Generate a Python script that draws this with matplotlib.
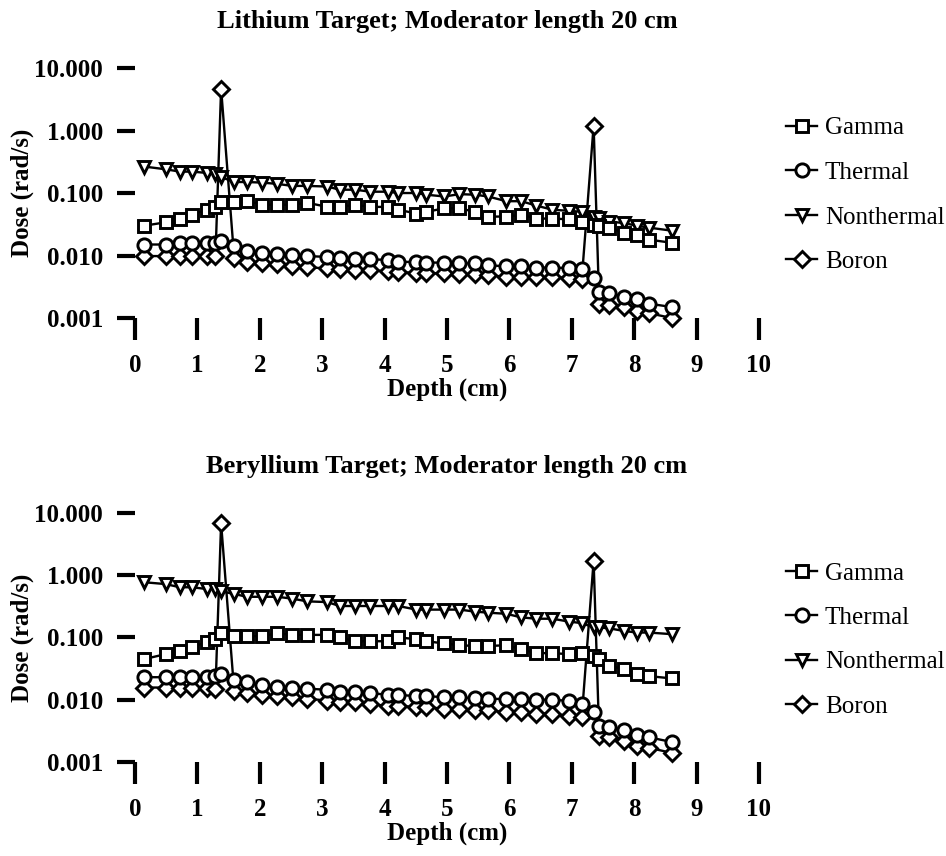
import matplotlib.pyplot as plt
from matplotlib.ticker import NullLocator

plt.rcParams['font.family'] = ['Liberation Serif', 'DejaVu Serif']

# depth positions of the dose measurements (cm)
depth_cm = [0.15, 0.49, 0.72, 0.91, 1.15, 1.29, 1.38, 1.59, 1.79, 2.03,
            2.28, 2.52, 2.76, 3.08, 3.28, 3.53, 3.77, 4.06, 4.22, 4.51,
            4.67, 4.96, 5.20, 5.45, 5.66, 5.95, 6.19, 6.43, 6.69, 6.95,
            7.16, 7.35, 7.44, 7.60, 7.84, 8.04, 8.23, 8.60]

# Lithium target (rad/s)
li_gamma = [0.030, 0.034, 0.039, 0.045, 0.054, 0.060, 0.073, 0.073, 0.075, 0.065,
            0.065, 0.065, 0.070, 0.060, 0.060, 0.065, 0.060, 0.060, 0.054, 0.047,
            0.050, 0.057, 0.057, 0.050, 0.042, 0.042, 0.045, 0.039, 0.039, 0.038,
            0.035, 0.031, 0.030, 0.028, 0.023, 0.021, 0.018, 0.016]
li_thermal = [0.015, 0.015, 0.016, 0.016, 0.016, 0.016, 0.017, 0.014, 0.012, 0.011,
              0.0107, 0.0102, 0.0098, 0.0095, 0.0090, 0.0087, 0.0087, 0.0085, 0.0080, 0.0078,
              0.0077, 0.0077, 0.0075, 0.0075, 0.0070, 0.0067, 0.0067, 0.0064, 0.0064, 0.0063,
              0.0060, 0.0044, 0.0026, 0.0025, 0.0022, 0.0020, 0.0017, 0.0015]
li_nonthermal = [0.265, 0.24, 0.22, 0.22, 0.21, 0.20, 0.18, 0.15, 0.15, 0.147,
                 0.14, 0.13, 0.13, 0.127, 0.113, 0.113, 0.105, 0.105, 0.10, 0.10,
                 0.094, 0.088, 0.096, 0.094, 0.088, 0.074, 0.074, 0.063, 0.054, 0.052,
                 0.050, 0.042, 0.040, 0.035, 0.033, 0.030, 0.028, 0.025]
li_boron = [0.0098, 0.0098, 0.0100, 0.0100, 0.0100, 0.0100, 4.7, 0.0090, 0.0080, 0.0075,
            0.0072, 0.0068, 0.0065, 0.0062, 0.0060, 0.0058, 0.0058, 0.0056, 0.0054, 0.0053,
            0.0052, 0.0052, 0.0051, 0.0050, 0.0048, 0.0046, 0.0046, 0.0045, 0.0045, 0.0044,
            0.0042, 1.2, 0.0017, 0.0016, 0.0015, 0.0013, 0.0012, 0.0010]

# Beryllium target (rad/s)
be_gamma = [0.045, 0.054, 0.060, 0.070, 0.084, 0.094, 0.12, 0.105, 0.105, 0.105,
            0.117, 0.11, 0.11, 0.11, 0.10, 0.087, 0.087, 0.087, 0.10, 0.094,
            0.087, 0.080, 0.075, 0.073, 0.073, 0.075, 0.065, 0.056, 0.056, 0.054,
            0.056, 0.050, 0.045, 0.035, 0.031, 0.026, 0.024, 0.022]
be_thermal = [0.023, 0.023, 0.023, 0.023, 0.023, 0.024, 0.026, 0.021, 0.019, 0.017,
              0.016, 0.0157, 0.015, 0.0145, 0.0135, 0.0135, 0.0128, 0.012, 0.012, 0.0114,
              0.0114, 0.011, 0.011, 0.0105, 0.0103, 0.0103, 0.0103, 0.010, 0.010, 0.0096,
              0.0086, 0.0063, 0.0038, 0.0036, 0.0033, 0.0027, 0.0025, 0.0021]
be_nonthermal = [0.77, 0.72, 0.64, 0.64, 0.60, 0.60, 0.55, 0.50, 0.45, 0.45,
                 0.45, 0.42, 0.38, 0.37, 0.32, 0.32, 0.32, 0.32, 0.32, 0.28,
                 0.28, 0.28, 0.28, 0.26, 0.25, 0.24, 0.21, 0.20, 0.20, 0.18,
                 0.17, 0.145, 0.145, 0.14, 0.127, 0.12, 0.12, 0.113]
be_boron = [0.0157, 0.0157, 0.0157, 0.0157, 0.0157, 0.015, 6.8, 0.0136, 0.013, 0.012,
            0.0114, 0.011, 0.0104, 0.0097, 0.0093, 0.0093, 0.0086, 0.0079, 0.0079, 0.0077,
            0.0077, 0.0071, 0.0071, 0.0068, 0.0068, 0.0063, 0.0063, 0.0060, 0.0060, 0.0055,
            0.0053, 1.7, 0.0026, 0.0025, 0.0022, 0.0018, 0.0017, 0.0014]

dose_ticks = [0.001, 0.01, 0.1, 1, 10]
dose_labels = ['0.001', '0.010', '0.100', '1.000', '10.000']
depth_ticks = list(range(11))

FS = 18

fig = plt.figure(figsize=(9.46, 8.56), dpi=100)


def panel(rect, title, gamma, thermal, nonthermal, boron, legend_y):
    ax = fig.add_axes(rect)
    ax.set_yscale('log')
    style = dict(color='black', lw=1.7, markerfacecolor='white',
                 markeredgewidth=2.1, clip_on=False)
    hb, = ax.plot(depth_cm, boron, marker='D', ms=8, label='Boron', **style)
    hn, = ax.plot(depth_cm, nonthermal, marker='v', ms=9, label='Nonthermal', **style)
    hg, = ax.plot(depth_cm, gamma, marker='s', ms=9, label='Gamma', **style)
    ht, = ax.plot(depth_cm, thermal, marker='o', ms=9.5, label='Thermal', **style)

    ax.set_xlim(0, 10)
    ax.set_ylim(0.001, 10)
    for s in ax.spines.values():
        s.set_visible(False)
    ax.yaxis.set_minor_locator(NullLocator())
    ax.set_yticks(dose_ticks, dose_labels)
    ax.set_xticks(depth_ticks, [str(t) for t in depth_ticks])
    ax.tick_params(axis='y', direction='out', length=13, width=3, pad=10,
                   labelsize=FS)
    ax.tick_params(axis='x', direction='out', length=16, width=3, pad=10,
                   labelsize=FS)
    for lab in ax.get_xticklabels() + ax.get_yticklabels():
        lab.set_fontweight('bold')

    ax.set_xlabel('Depth (cm)', fontsize=FS, fontweight='bold', labelpad=0)
    ax.set_ylabel('Dose (rad/s)', fontsize=FS, fontweight='bold', labelpad=0)
    ax.set_title(title, fontsize=FS + 1, fontweight='bold', pad=29)

    ax.legend(handles=[hg, ht, hn, hb], loc='upper left',
              bbox_to_anchor=(0.831, legend_y), bbox_transform=fig.transFigure,
              frameon=False, fontsize=FS, handlelength=1.25, handletextpad=0.3,
              labelspacing=0.88, borderaxespad=0, borderpad=0)
    return ax


panel([0.1427, 0.6285, 0.6596, 0.292],
      'Lithium Target; Moderator length 20 cm',
      li_gamma, li_thermal, li_nonthermal, li_boron, 1 - 117 / 856)
panel([0.1427, 0.1098, 0.6596, 0.291],
      'Beryllium Target; Moderator length 20 cm',
      be_gamma, be_thermal, be_nonthermal, be_boron, 1 - 562 / 856)

fig.savefig('out.png', dpi=100)
